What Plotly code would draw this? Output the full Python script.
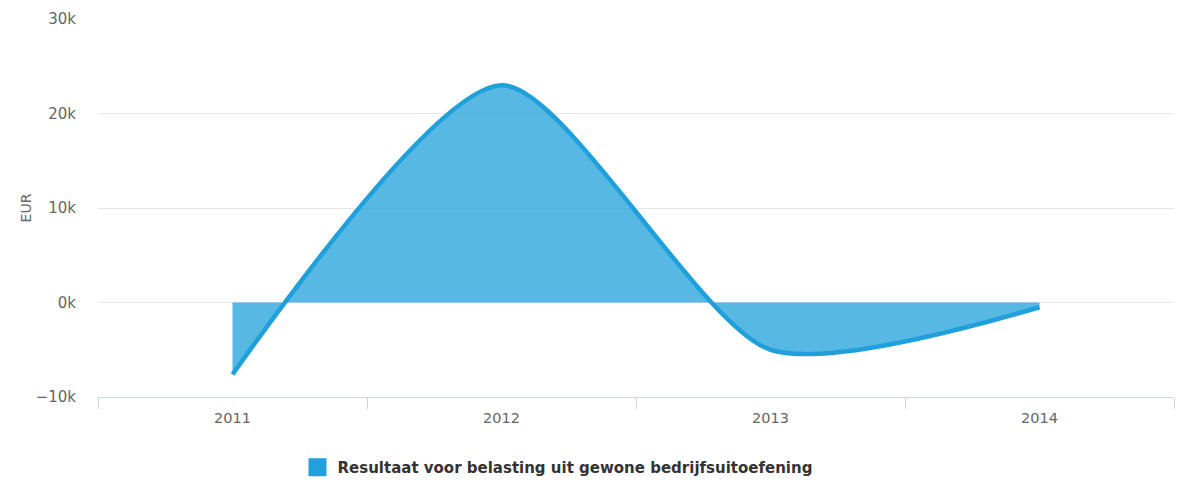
import plotly.graph_objects as go

years = ["2011", "2012", "2013", "2014"]
values = [-7600, 23000, -5000, -500]
series_name = "Resultaat voor belasting uit gewone bedrijfsuitoefening"
y_ticks = [-10000, 0, 10000, 20000, 30000]
y_tick_labels = ["\u221210k", "0k", "10k", "20k", "30k"]

line_color = "#1fa0db"
fill_color = "rgba(31,160,219,0.75)"
font_family = "DejaVu Sans, Verdana, sans-serif"

fig = go.Figure()
fig.add_trace(go.Scatter(
    x=years, y=values, mode="lines",
    line=dict(color=line_color, width=4.5, shape="spline", smoothing=0.7),
    fill="tozeroy", fillcolor=fill_color,
    showlegend=False, hoverinfo="x+y",
))
fig.add_trace(go.Scatter(
    x=[None], y=[None], mode="markers", name=series_name,
    marker=dict(symbol="square", size=16, color="#21a0dc",
                line=dict(color="#21a0dc", width=2)),
    showlegend=True,
))

fig.update_layout(
    width=1168, height=473,
    margin=dict(l=90, r=2, t=11, b=84, autoexpand=False),
    plot_bgcolor="white", paper_bgcolor="white",
    font=dict(family=font_family, color="#666666", size=13),
    xaxis=dict(
        type="category", categoryorder="array", categoryarray=years,
        range=[-0.5, 3.5], automargin=False,
        tickson="boundaries", ticks="outside", ticklen=11, tickcolor="#ccd6eb",
        showline=True, linecolor="#ccd6eb", linewidth=1,
        showgrid=False, tickfont=dict(size=14.5, color="#666666"),
        ticklabelstandoff=8,
    ),
    yaxis=dict(
        range=[-10000, 30000], tickvals=y_ticks, ticktext=y_tick_labels,
        automargin=False,
        showgrid=True, gridcolor="#e6e6e6", gridwidth=1, zeroline=False,
        showline=False, ticks="", ticklabelstandoff=21,
        tickfont=dict(size=15, color="#666666"),
        title=dict(text="EUR", font=dict(size=14, color="#666666"), standoff=0),
    ),
    legend=dict(
        orientation="h", xref="paper", x=0.1854, xanchor="left",
        yref="container", y=0.0634, yanchor="top",
        font=dict(size=15, color="#333333", weight="bold"),
        itemsizing="trace",
    ),
    showlegend=True,
)

fig.write_html("out.html")
